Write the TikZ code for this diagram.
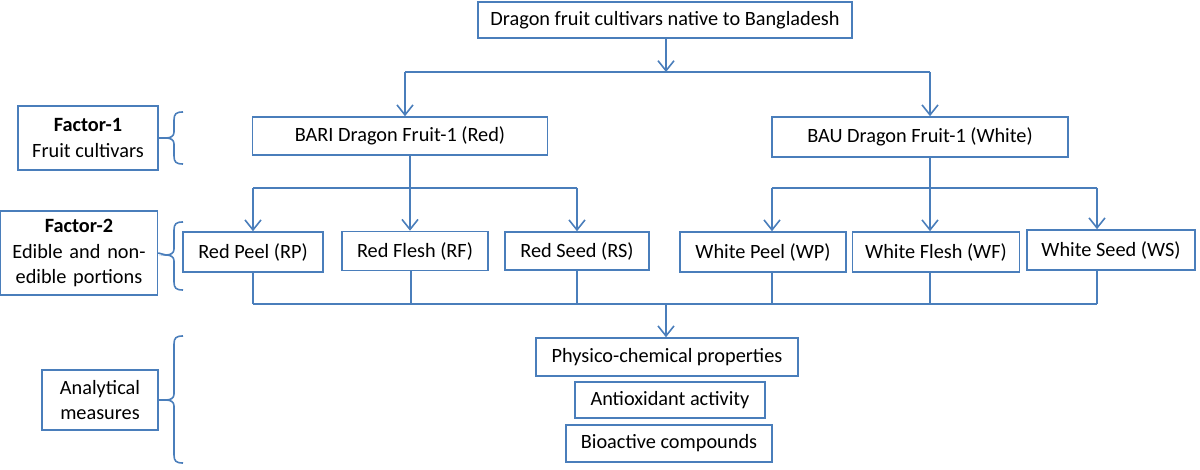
\documentclass[tikz,border=0pt]{standalone}
\usepackage{fontspec}
\setmainfont{Carlito}
\usetikzlibrary{arrows.meta}
\definecolor{ln}{HTML}{4A7EBB}
\begin{document}
\begin{tikzpicture}[x=1pt,y=-1pt,
  box/.style={draw=ln,line width=1.6pt,fill=white,inner sep=0pt,align=center,font=\fontsize{20.3}{25.5}\selectfont},
  ln/.style={draw=ln,line width=1.6pt},
  arr/.style={ln,-{Straight Barb[length=10pt,width=16pt,line width=1.6pt]}}]
\useasboundingbox (0,0) rectangle (1200,470);
% nodes
\node[box,minimum width=374,minimum height=36] (top) at (665,20) {Dragon fruit cultivars native to Bangladesh};
\node[box,minimum width=295,minimum height=38] (bari) at (400,136) {BARI Dragon Fruit-1 (Red)};
\node[box,minimum width=296,minimum height=40] (bau) at (920,137) {BAU Dragon Fruit-1 (White)};
\node[box,minimum width=140,minimum height=64] (f1) at (88,138) {\textbf{Factor-1}\\Fruit cultivars};
\node[box,minimum width=157,minimum height=84,text width=155] (f2) at (79,253) {\textbf{Factor-2}\\Edible and non-\\edible portions};
\node[box,minimum width=116,minimum height=60] (am) at (100,400) {Analytical\\measures};
\node[box,minimum width=140,minimum height=40] (rp) at (253,252) {Red Peel (RP)};
\node[box,minimum width=146,minimum height=39] (rf) at (415,251) {Red Flesh (RF)};
\node[box,minimum width=144,minimum height=38] (rs) at (577,251) {Red Seed (RS)};
\node[box,minimum width=166,minimum height=40] (wp) at (763,252) {White Peel (WP)};
\node[box,minimum width=167,minimum height=40] (wf) at (936,252) {White Flesh (WF)};
\node[box,minimum width=168,minimum height=40] (ws) at (1111,250) {White Seed (WS)};
\node[box,minimum width=262,minimum height=38] (pc) at (667,357) {Physico-chemical properties};
\node[box,minimum width=190,minimum height=36] (ao) at (670,400) {Antioxidant activity};
\node[box,minimum width=206,minimum height=37] (bc) at (669,443.5) {Bioactive compounds};
% junctions
\coordinate (j0) at (666,72);
\coordinate (jL) at (405,72);
\coordinate (jR) at (930,72);
\coordinate (r0) at (410,188);
\coordinate (rL) at (253,188);
\coordinate (rR) at (577,188);
\coordinate (w0) at (930,188);
\coordinate (wL) at (772,188);
\coordinate (wR) at (1097,188);
\coordinate (bL) at (253,304);
\coordinate (bR) at (1097,304);
\coordinate (b0) at (666,304);
% connectors
\draw[arr] (top.south -| j0) -- (j0);
\draw[ln] (jL) -- (jR);
\draw[arr] (jL) -- (jL |- bari.north);
\draw[arr] (jR) -- (jR |- bau.north);
\draw[ln] (bari.south -| r0) -- (r0);
\draw[ln] (rL) -- (rR);
\draw[arr] (rL) -- (rL |- rp.north);
\draw[arr] (r0) -- (r0 |- rf.north);
\draw[arr] (rR) -- (rR |- rs.north);
\draw[ln] (bau.south -| w0) -- (w0);
\draw[ln] (wL) -- (wR);
\draw[arr] (wL) -- (wL |- wp.north);
\draw[arr] (w0) -- (w0 |- wf.north);
\draw[arr] (wR) -- (wR |- ws.north);
\draw[ln] (bL) -- (bR);
\draw[ln] (rp.south -| bL) -- (bL);
\draw[ln] (rf.south -| 411,0) -- (411,304);
\draw[ln] (rs.south -| rR) -- (rR |- bL);
\draw[ln] (wp.south -| wL) -- (wL |- bL);
\draw[ln] (wf.south -| w0) -- (w0 |- bL);
\draw[ln] (ws.south -| bR) -- (bR);
\draw[arr] (b0) -- (b0 |- pc.north);
% braces
\draw[ln] (f1.east) -- (166,138);
\draw[ln] (183,112) .. controls (176,112) and (174,114) .. (174,120) -- (174,132) .. controls (174,136) and (171,138) .. (166,138) .. controls (171,138) and (174,140) .. (174,144) -- (174,156) .. controls (174,162) and (176,164) .. (183,164);
\draw[ln] (f2.east) -- (166,255);
\draw[ln] (183,222) .. controls (176,222) and (174,224) .. (174,230) -- (174,249) .. controls (174,253) and (171,255) .. (166,255) .. controls (171,255) and (174,257) .. (174,261) -- (174,282) .. controls (174,288) and (176,290) .. (183,290);
\draw[ln] (am.east) -- (166,400);
\draw[ln] (183,336) .. controls (176,336) and (174,338) .. (174,344) -- (174,394) .. controls (174,398) and (171,400) .. (166,400) .. controls (171,400) and (174,402) .. (174,406) -- (174,455) .. controls (174,461) and (176,463) .. (183,463);
\end{tikzpicture}
\end{document}
